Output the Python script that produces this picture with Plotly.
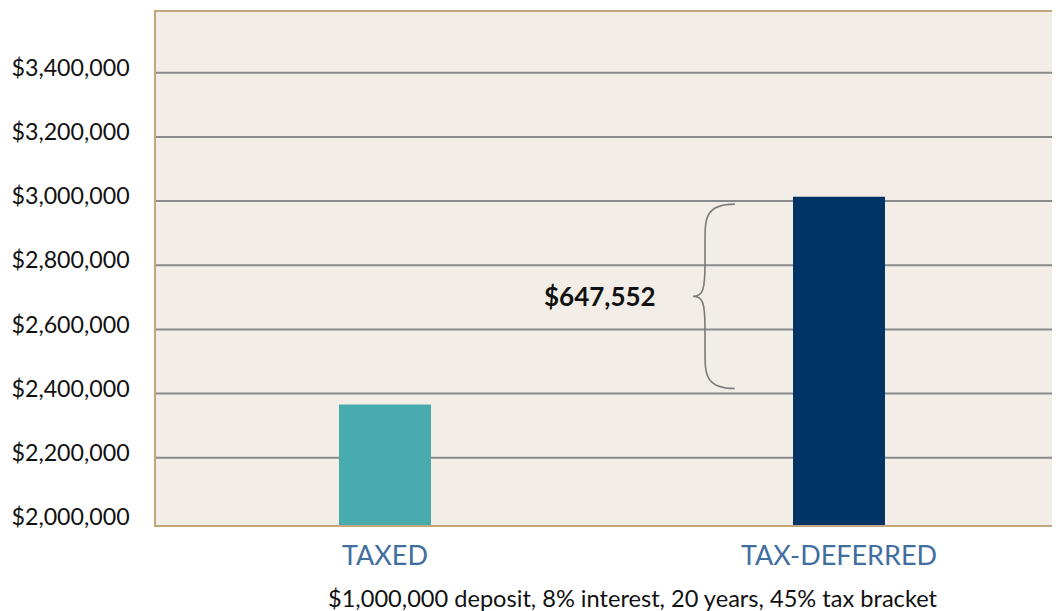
import plotly.graph_objects as go

categories = ["TAXED", "TAX-DEFERRED"]
values = [2365974, 3013526]
bar_colors = ["#48abad", "#003466"]
tick_values = [2000000, 2200000, 2400000, 2600000, 2800000, 3000000, 3200000, 3400000]
tick_labels = ["$2,000,000", "$2,200,000", "$2,400,000", "$2,600,000",
               "$2,800,000", "$3,000,000", "$3,200,000", "$3,400,000"]
difference_label = "$647,552"
caption = "$1,000,000 deposit, 8% interest, 20 years, 45% tax bracket"

fig = go.Figure()
fig.add_trace(go.Bar(
    x=categories, y=values, marker=dict(color=bar_colors, line=dict(width=0)),
    width=0.2026, hoverinfo="skip", showlegend=False,
))

# gridlines (none at the baseline)
for v in tick_values[1:]:
    fig.add_shape(type="line", xref="paper", yref="y", x0=0, x1=1, y0=v, y1=v,
                  line=dict(color="#8a8a8a", width=2), layer="below")

# curly brace spanning the gap between the bars
top = values[1] - 23000
bot = values[0] + 50000
mid = (top + bot) / 2
xs, xe, xt = 0.608, 0.641, 0.5947
d = (top - bot)
path = (
    f"M {xe},{top} "
    f"C {xs},{top} {xs},{top - 0.08*d} {xs},{top - 0.2*d} "
    f"L {xs},{mid + 0.18*d} "
    f"C {xs},{mid + 0.04*d} {xs - 0.002},{mid} {xt},{mid} "
    f"C {xs - 0.002},{mid} {xs},{mid - 0.04*d} {xs},{mid - 0.18*d} "
    f"L {xs},{bot + 0.2*d} "
    f"C {xs},{bot + 0.08*d} {xs},{bot} {xe},{bot}"
)
fig.add_shape(type="path", xref="paper", yref="y", path=path,
              line=dict(color="#7a7a7a", width=1.6))

fig.add_annotation(xref="paper", yref="y", x=0.556, y=mid, text=f"<b>{difference_label}</b>",
                   showarrow=False, xanchor="right", yanchor="middle",
                   font=dict(family="Lato", size=26, color="#111111"))

fig.add_annotation(xref="paper", yref="paper", x=0.528, y=-0.1417, text=caption,
                   showarrow=False, xanchor="center", yanchor="middle",
                   font=dict(family="Lato", size=23.6, color="#111111"))

fig.update_layout(
    width=1060, height=611,
    margin=dict(l=148, r=9, t=2, b=94),
    paper_bgcolor="white", plot_bgcolor="#f2eee7",
    xaxis=dict(range=[-0.5044, 1.4846], showgrid=False, showline=True, mirror=True,
               linecolor="#c2a77d", linewidth=1.5,
               tickfont=dict(family="Lato", size=27, color="#3f6e9f"), ticks="",
               ticklabelstandoff=6, fixedrange=True),
    yaxis=dict(range=[1990400, 3589400], showgrid=False, zeroline=False,
               showline=True, mirror=True, linecolor="#c2a77d", linewidth=1.5,
               tickvals=tick_values, ticktext=tick_labels, ticks="",
               tickfont=dict(family="Lato", size=23.2, color="#111111"),
               ticklabelstandoff=20, ticklabelshift=-5, fixedrange=True),
)

fig.write_html("out.html")
